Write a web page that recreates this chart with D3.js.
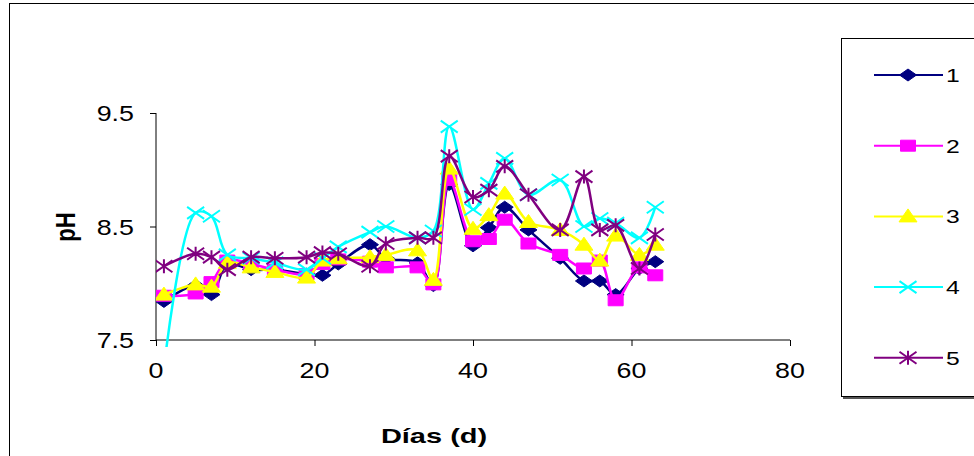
<!DOCTYPE html>
<html><head><meta charset="utf-8">
<script src="https://cdn.jsdelivr.net/npm/d3@7"></script>
<style>html,body{margin:0;padding:0;background:#fff;}svg{display:block;}</style>
</head><body>
<svg id="chart" width="974" height="456"></svg>
<script>
const days = [1,5,7,9,12,15,19,21,23,27,29,33,35,37,40,42,44,47,51,54,56,58,61,63];
const s1 = [7.84,7.98,7.90,8.17,8.12,8.12,8.08,8.07,8.17,8.34,8.22,8.18,7.98,8.87,8.33,8.49,8.67,8.47,8.22,8.02,8.02,7.90,8.13,8.19];
const s2 = [7.89,7.91,8.01,8.20,8.17,8.12,8.08,8.17,8.21,8.19,8.14,8.14,7.99,8.91,8.37,8.39,8.56,8.35,8.25,8.13,8.20,7.85,8.14,8.07];
const s3 = [7.90,7.99,7.97,8.18,8.14,8.10,8.05,8.20,8.22,8.23,8.25,8.29,8.03,9.01,8.48,8.60,8.79,8.54,8.47,8.34,8.20,8.42,8.25,8.34];
const s4 = [7.25,8.62,8.59,8.25,8.22,8.18,8.12,8.22,8.32,8.45,8.50,8.40,8.46,9.38,8.65,8.88,9.10,8.78,8.91,8.50,8.57,8.53,8.40,8.67];
const s5 = [8.15,8.26,8.23,8.12,8.23,8.22,8.23,8.27,8.26,8.15,8.35,8.40,8.40,9.12,8.76,8.82,9.03,8.78,8.47,8.94,8.47,8.51,8.13,8.43];
const seriesNames = ["1","2","3","4","5"];
const seriesColors = ["#000080","#FF00FF","#FFFF00","#00FFFF","#800080"];
const seriesMarkers = ["diamond","square","triangle","x","star"];
const xTicks = [0,20,40,60,80];
const yTicks = [7.5,8.5,9.5];
const xTitle = "Días (d)";
const yTitle = "pH";

const seriesValues = [s1,s2,s3,s4,s5];
const svg = d3.select("#chart");
const font = "Arial, 'Liberation Sans', sans-serif";
const SX = 1.22; // horizontal stretch seen in reference

// outer chart border
svg.append("rect").attr("x",9.5).attr("y",3.5).attr("width",1000).attr("height",500)
  .attr("fill","#fff").attr("stroke","#000").attr("stroke-width",1);

const x = d3.scaleLinear().domain([0,80]).range([156,790]);
const y = d3.scaleLinear().domain([7.5,9.5]).range([340,113]);

function sText(g, tx, ty, str, size, anchor, weight, sx){
  return g.append("text").attr("transform",`translate(${tx},${ty}) scale(${sx},1)`)
    .attr("text-anchor",anchor).attr("font-family",font).attr("font-size",size)
    .attr("font-weight",weight||"normal").attr("fill","#000").text(str);
}

// axes
const xAxis = d3.axisBottom(x).tickValues(xTicks).tickSize(6).tickFormat("");
const gx = svg.append("g").attr("transform","translate(0,340)").call(xAxis);
gx.select(".domain").attr("stroke","#000").attr("d","M156,0H790");
gx.selectAll(".tick line").attr("stroke","#000");
const fx = d3.format("d");
xTicks.forEach(t=>sText(svg, x(t), 378, fx(t), 22, "middle", "normal", SX));

const yAxis = d3.axisLeft(y).tickValues(yTicks).tickSize(6).tickFormat("");
const gy = svg.append("g").attr("transform","translate(156,0)").call(yAxis);
gy.select(".domain").attr("stroke","#000").attr("d","M0,113V340");
gy.selectAll(".tick line").attr("stroke","#000");
const fy = d3.format(".1f");
yTicks.forEach(t=>sText(svg, 134, y(t)+8, fy(t), 22, "end", "normal", SX));

// titles
sText(svg, 434, 443, xTitle, 21, "middle", "bold", 1.38);
svg.append("text").attr("transform","translate(75,227) scale(1.25,1) rotate(-90)").attr("text-anchor","middle")
  .attr("font-family",font).attr("font-size",22).attr("font-weight","bold").text(yTitle);

// clip
svg.append("defs").append("clipPath").attr("id","clip")
  .append("rect").attr("x",156).attr("y",60).attr("width",640).attr("height",287);

function markerPath(type){
  const w=8.5, h=6;
  switch(type){
    case "diamond": return `M0,${-h}L${w},0L0,${h}L${-w},0Z`;
    case "square": return `M${-7.5},${-5.5}H${7.5}V${5.5}H${-7.5}Z`;
    case "triangle": return `M0,${-7.5}L${9},${5.5}L${-9},${5.5}Z`;
    case "x": return `M${-w},${-h}L${w},${h}M${-w},${h}L${w},${-h}`;
    case "star": return `M${-w},${-h}L${w},${h}M${-w},${h}L${w},${-h}M0,${-h-1}V${h+1}`;
  }
}
const isStroke = t => t==="x" || t==="star";

const line = d3.line().x(d=>x(d[0])).y(d=>y(d[1])).curve(d3.curveCatmullRom.alpha(0.5));
const plot = svg.append("g").attr("clip-path","url(#clip)");
seriesValues.forEach((vals,i)=>{
  const pts = days.map((d,j)=>[d,vals[j]]);
  const g = plot.append("g");
  g.append("path").attr("d",line(pts)).attr("fill","none")
    .attr("stroke",seriesColors[i]).attr("stroke-width",2.5);
  g.selectAll("path.m").data(pts).enter().append("path").attr("class","m")
    .attr("transform",d=>`translate(${x(d[0])},${y(d[1])})`)
    .attr("d",markerPath(seriesMarkers[i]))
    .attr("fill",isStroke(seriesMarkers[i])?"none":seriesColors[i])
    .attr("stroke",seriesColors[i]).attr("stroke-width",isStroke(seriesMarkers[i])?2:1);
});

// legend
const lg = svg.append("g");
lg.append("rect").attr("x",843).attr("y",40).attr("width",200).attr("height",359).attr("fill","#555");
lg.append("rect").attr("x",841.5).attr("y",38.5).attr("width",200).attr("height",358)
  .attr("fill","#fff").attr("stroke","#000").attr("stroke-width",1);
seriesNames.forEach((n,i)=>{
  const cy = 75 + i*70.7;
  const e = lg.append("g");
  e.append("line").attr("x1",874).attr("x2",943).attr("y1",cy).attr("y2",cy)
    .attr("stroke",seriesColors[i]).attr("stroke-width",2);
  e.append("path").attr("transform",`translate(908,${cy})`)
    .attr("d",markerPath(seriesMarkers[i]))
    .attr("fill",isStroke(seriesMarkers[i])?"none":seriesColors[i])
    .attr("stroke",seriesColors[i]).attr("stroke-width",isStroke(seriesMarkers[i])?2:1);
  sText(e, 946, cy+7, n, 19, "start", "normal", 1.3);
});
</script>
</body></html>
